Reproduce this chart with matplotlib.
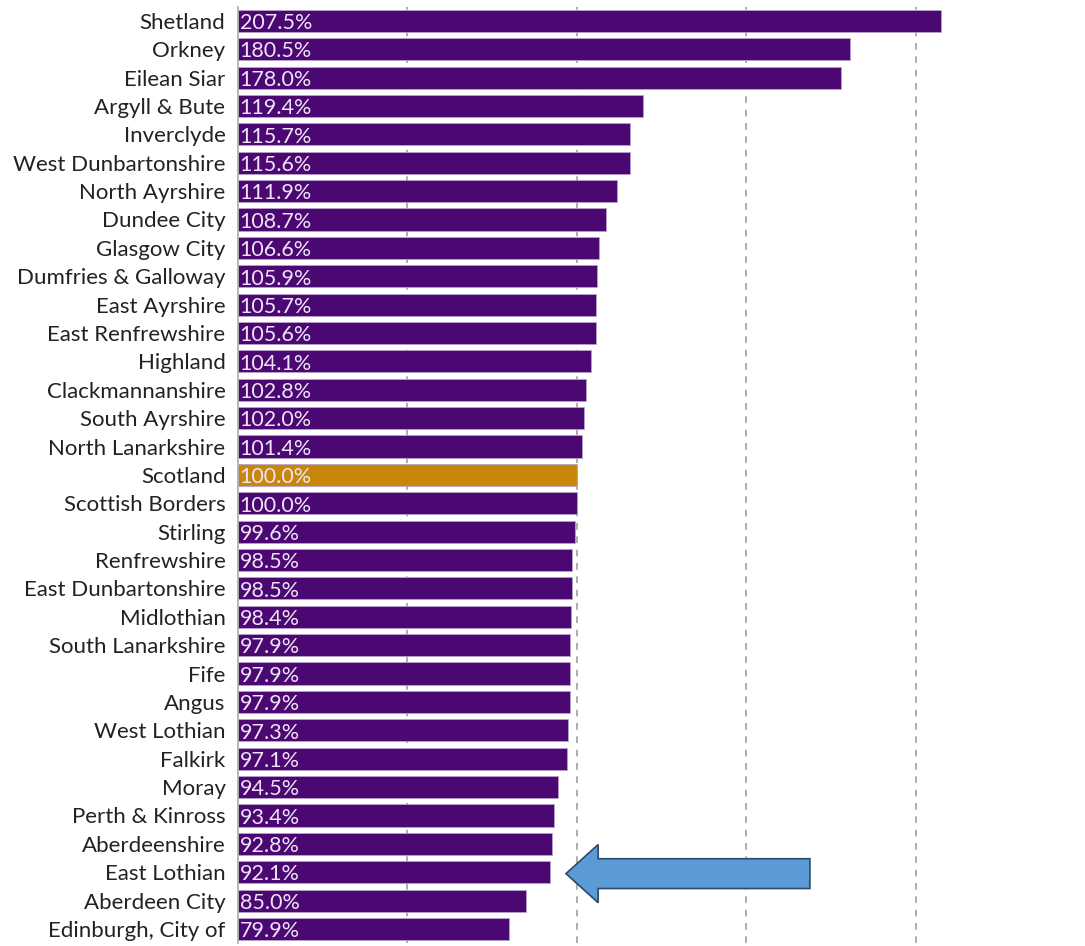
import numpy as np
import matplotlib.pyplot as plt
from matplotlib.patches import FancyArrow

# === Data ===
areas = ["Shetland", "Orkney", "Eilean Siar", "Argyll & Bute", "Inverclyde",
         "West Dunbartonshire", "North Ayrshire", "Dundee City", "Glasgow City",
         "Dumfries & Galloway", "East Ayrshire", "East Renfrewshire", "Highland",
         "Clackmannanshire", "South Ayrshire", "North Lanarkshire", "Scotland",
         "Scottish Borders", "Stirling", "Renfrewshire", "East Dunbartonshire",
         "Midlothian", "South Lanarkshire", "Fife", "Angus", "West Lothian",
         "Falkirk", "Moray", "Perth & Kinross", "Aberdeenshire", "East Lothian",
         "Aberdeen City", "Edinburgh, City of"]
values = [207.5, 180.5, 178.0, 119.4, 115.7, 115.6, 111.9, 108.7, 106.6, 105.9,
          105.7, 105.6, 104.1, 102.8, 102.0, 101.4, 100.0, 100.0, 99.6, 98.5,
          98.5, 98.4, 97.9, 97.9, 97.9, 97.3, 97.1, 94.5, 93.4, 92.8, 92.1,
          85.0, 79.9]
highlight = "Scotland"
pointed = "East Lothian"

purple = "#4b0872"
gold = "#c8860a"

fig = plt.figure(figsize=(10.85, 9.46), dpi=100)
ax = fig.add_axes([238/1085, 0.003, 1 - 238/1085, 0.99])

y = np.arange(len(areas))
colors = [gold if a == highlight else purple for a in areas]
ax.barh(y, values, height=0.78, color=colors, edgecolor="#b9a3cc",
        linewidth=0.6, zorder=2)

for yi, v in zip(y, values):
    ax.text(0.5, yi + 0.08, f"{v:.1f}%", color="#eee4f5", fontsize=15.5,
            va="center", ha="left", family="Lato", zorder=3)

ax.set_yticks(y)
ax.set_yticklabels(areas, fontsize=16, family="Lato", color="#222222")
ax.tick_params(axis="y", length=0, pad=9)
ax.tick_params(axis="x", length=0, labelbottom=False)
ax.set_xlim(0, 250)
ax.set_ylim(len(areas) - 0.5, -0.5)
ax.set_xticks([50, 100, 150, 200])
ax.grid(axis="x", color="#a0a0a0", linestyle=(0, (4, 4)), linewidth=1.2, zorder=0)
for s in ["top", "right", "bottom"]:
    ax.spines[s].set_visible(False)
ax.spines["left"].set_color("#aaaaaa")
ax.spines["left"].set_linewidth(1.2)

# arrow pointing at East Lothian
i = areas.index(pointed)
tip = values[i] + 4.7
arrow = FancyArrow(tip + 72, i + 0.05, -72, 0, width=1.05, head_width=2.05,
                   head_length=9.5, length_includes_head=True,
                   facecolor="#5b9bd5", edgecolor="#2e4a66", linewidth=1.2,
                   zorder=4, clip_on=False)
ax.add_patch(arrow)

fig.savefig("out.png", dpi=100)
